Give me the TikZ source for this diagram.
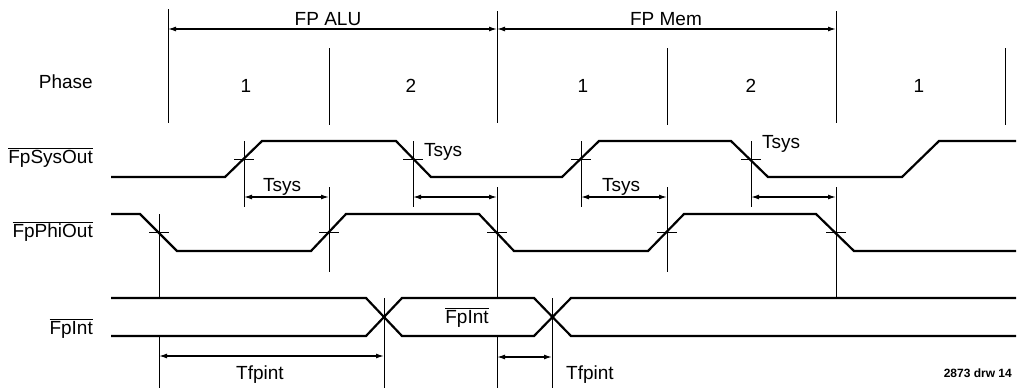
\documentclass[tikz,border=0pt]{standalone}
\usepackage{fontspec}
\setmainfont{Liberation Sans}
\usetikzlibrary{arrows.meta}

\newcommand\ovl[1]{$\overline{\mbox{#1}}$}

\tikzset{
    sig/.style={line width=2.2pt, line join=miter},
    guide/.style={line width=1pt},
    dim/.style={line width=1.3pt, {Latex[length=8pt,width=5pt]}-{Latex[length=8pt,width=5pt]}},
    lbl/.style={font=\fontsize{19}{21}\selectfont, inner sep=0pt, anchor=base},
}

\begin{document}
\begin{tikzpicture}[x=1pt,y=-1pt]
    \useasboundingbox (0,0) rectangle (1019,389);

    % Phase boundaries
    \foreach \x/\t in {168/9,497/11,836/11} \draw[guide] (\x,\t) -- (\x,123);
    \foreach \x in {329,667,1005} \draw[guide] (\x,48) -- (\x,125);

    % Section arrows
    \coordinate (aluL) at (168,29);
    \coordinate (aluR) at (497,29);
    \coordinate (memR) at (836,29);
    \draw[dim] (aluL) -- (aluR);
    \draw[dim] (aluR) -- (memR);
    \node[lbl] (alu) at (328,25) {FP ALU};
    \node[lbl] (mem) at (666,25) {FP Mem};

    % Row labels
    \node[lbl, anchor=base east] (phase) at (93,88) {Phase};
    \node[lbl, anchor=base east] (sysout) at (93,163) {\ovl{FpSysOut}};
    \node[lbl, anchor=base east] (phiout) at (93,237) {\ovl{FpPhiOut}};
    \node[lbl, anchor=base east] (fpint) at (93,334) {\ovl{FpInt}};

    % Phase numbers
    \foreach \x/\n [count=\i] in {246/1,411/2,583/1,751/2,919/1}
        \node[lbl] (ph\i) at (\x,92) {\n};

    % Signals
    \draw[sig] (111,177) -- (225,177) -- (262,141) -- (396,141) -- (431,177)
        -- (562,177) -- (599,141) -- (731,141) -- (768,177) -- (902,177)
        -- (939,141) -- (1016,141);
    \draw[sig] (111,214) -- (140,214) -- (177,251) -- (311,251) -- (346,214)
        -- (479,214) -- (514,251) -- (648,251) -- (684,214) -- (816,214)
        -- (854,251) -- (1016,251);
    \draw[sig] (111,298) -- (366,298) -- (402,336) -- (534,336) -- (571,298) -- (1016,298);
    \draw[sig] (111,336) -- (366,336) -- (402,298) -- (534,298) -- (571,336) -- (1016,336);
    \node[lbl] (fpint2) at (467,323) {\ovl{FpInt}};

    % Edge markers
    \foreach \x in {244,413,581,751} {
        \draw[guide] (\x,141) -- (\x,207);
        \draw[guide] (\x-10,159) -- (\x+10,159);
    }
    \foreach \x in {159,329,497,667,836} \draw[guide] (\x-10,232) -- (\x+10,232);
    \foreach \x in {329,667} \draw[guide] (\x,187) -- (\x,272);
    \draw[guide] (497,187) -- (497,298);
    \draw[guide] (836,187) -- (836,298);
    \draw[guide] (159,214) -- (159,298);
    \foreach \x in {159,497} \draw[guide] (\x,336) -- (\x,388);
    \foreach \x in {384,552} \draw[guide] (\x,298) -- (\x,388);

    % Tsys arrows
    \foreach \a/\b [count=\i] in {244/329,413/497,581/667,751/836} {
        \coordinate (ts\i a) at (\a,197);
        \coordinate (ts\i b) at (\b,197);
        \draw[dim] (ts\i a) -- (ts\i b);
    }
    \node[lbl] (tsys1) at (282,191) {Tsys};
    \node[lbl] (tsys2) at (443,156) {Tsys};
    \node[lbl] (tsys3) at (621,191) {Tsys};
    \node[lbl] (tsys4) at (781,148) {Tsys};

    % Tfpint arrows
    \coordinate (tf1a) at (159,356);
    \coordinate (tf1b) at (384,356);
    \coordinate (tf2a) at (497,357);
    \coordinate (tf2b) at (552,357);
    \draw[dim] (tf1a) -- (tf1b);
    \draw[dim] (tf2a) -- (tf2b);
    \node[lbl] (tfp1) at (260,379) {Tfpint};
    \node[lbl, anchor=base west] (tfp2) at (566,379) {Tfpint};

    \node[lbl, anchor=base east, font=\fontsize{12}{14}\selectfont\bfseries] (drw) at (1012,377) {2873 drw 14};
\end{tikzpicture}
\end{document}
